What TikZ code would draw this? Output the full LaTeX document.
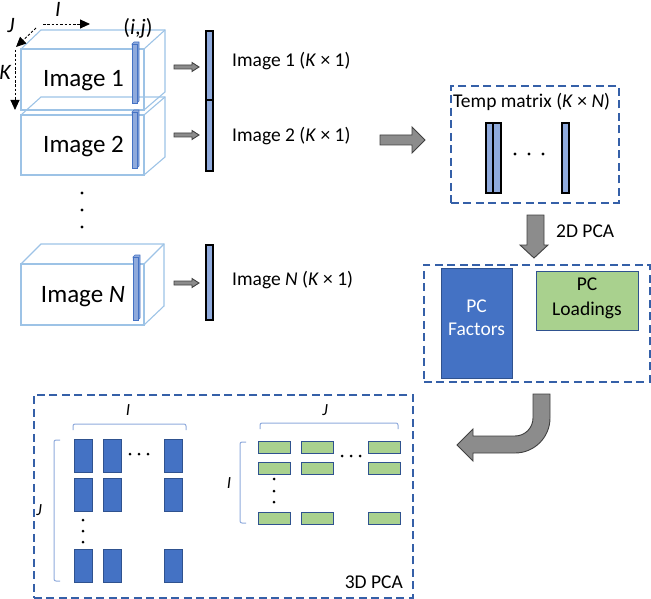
\documentclass[tikz,border=0pt]{standalone}
\usepackage{fontspec}
\setmainfont{Carlito}
\usetikzlibrary{arrows.meta}
\definecolor{dashblue}{HTML}{3560A8}
\definecolor{imgblue}{HTML}{9DC3E6}
\definecolor{slice}{HTML}{8FAADC}
\definecolor{slicedge}{HTML}{4472C4}
\definecolor{pcblue}{HTML}{4472C4}
\definecolor{pcedge}{HTML}{2F528F}
\definecolor{pcgreen}{HTML}{A9D18E}
\definecolor{arrgrey}{HTML}{8C8C8C}
\newcommand\setfs[1]{\fontsize{#1}{#1}\selectfont}
\begin{document}
\begin{tikzpicture}[x=1pt,y=-1pt,
  dashbox/.style={draw=dashblue, line width=1.9pt, dash pattern=on 8pt off 4.5pt},
  imgline/.style={draw=imgblue, line width=1.1pt},
  imgfront/.style={draw=imgblue, line width=1.1pt, minimum width=123, minimum height=61, anchor=north west, outer sep=0pt, inner sep=0pt},
  txt/.style={font=\setfs{19.5}, inner sep=0pt, anchor=base west},
  bigtxt/.style={font=\setfs{25}, inner sep=0pt, anchor=base},
  axlbl/.style={font=\setfs{22}\itshape, inner sep=0pt, anchor=base},
  smlbl/.style={font=\setfs{17}\itshape, inner sep=0pt, anchor=base},
  axarrow/.style={dashed, dash pattern=on 2.5pt off 1.8pt, line width=0.9pt, -{Triangle[length=10pt,width=9pt]}},
  blockarrow/.style={fill=arrgrey, draw=black!75, line width=0.9pt, line join=miter},
  colbar/.style={fill=slice, draw=black, line width=1.3pt, anchor=north west, inner sep=0pt, outer sep=0pt},
  slicebar/.style={fill=slice, draw=slicedge, line width=0.6pt},
  bluecell/.style={fill=pcblue, draw=pcedge, line width=1pt, minimum width=18, minimum height=33, anchor=north west, inner sep=0pt},
  greencell/.style={fill=pcgreen, draw=pcedge, line width=1.3pt, minimum width=32, minimum height=12, anchor=north west, inner sep=0pt},
  brack/.style={draw=slice, line width=1pt, rounded corners=2pt},
  dot/.style={circle, fill=black, inner sep=0pt, minimum size=3.2pt},
  smallarr/.pic={\path[blockarrow] (0,-2) -- (18,-2) -- (18,-4.5) -- (25,0) -- (18,4.5) -- (18,2) -- (0,2) -- cycle;}
]
\useasboundingbox (0,0) rectangle (651,599);

% ---------- image stacks ----------
\node[imgfront] (img1) at (21,49) {};
\draw[imgline] (img1.north west) -- ++(20,-19) -- ++(124,0) -- ++(0,62) -- (img1.south east);
\draw[imgline] (img1.north east) -- ++(21,-19);
\node[imgfront, minimum height=60] (img2) at (21,115) {};
\draw[imgline] (img2.north west) -- ++(20,-18) -- ++(124,0) -- ++(0,60) -- (img2.south east);
\draw[imgline] (img2.north east) -- ++(21,-18);
\node[imgfront] (imgN) at (21,264) {};
\draw[imgline] (imgN.north west) -- ++(20,-20) -- ++(123,0) -- ++(0,62) -- (imgN.south east);
\draw[imgline] (imgN.north east) -- ++(20,-20);

% slices
\draw[slicebar] (132,44) -- (134,42) -- (139,42) -- (139,101) -- (137,103) -- cycle;
\draw[slicebar] (132,44) rectangle (137,103);
\draw[slicebar] (132,112) -- (134,110) -- (139,110) -- (139,166) -- (137,168) -- cycle;
\draw[slicebar] (132,112) rectangle (137,168);
\draw[slicebar] (133,257) -- (135,255) -- (140,255) -- (140,318) -- (138,320) -- cycle;
\draw[slicebar] (133,257) rectangle (138,320);

\node[bigtxt] (t1) at (83.5,87) {Image 1};
\node[bigtxt] (t2) at (83.5,153) {Image 2};
\node[bigtxt] (tN) at (83,302.5) {Image \textit{N}};

\node[font=\setfs{22}, inner sep=0pt, anchor=base] (ij) at (138,35) {(\textit{i},\textit{j})};

% axes
\coordinate (ax0) at (43,24);
\coordinate (axI) at (90,24);
\coordinate (axJ0) at (36,28);
\coordinate (axJ) at (16,47);
\coordinate (axK0) at (15,50);
\coordinate (axK) at (15,110);
\draw[axarrow] (ax0) -- (axI);
\draw[axarrow] (axJ0) -- (axJ);
\draw[axarrow] (axK0) -- (axK);
\node[axlbl] (lI) at (58,17) {I};
\node[axlbl] (lJ) at (11,33) {J};
\node[axlbl] (lK) at (5,80) {K};

% dots
\node[dot] (d1) at (82,193) {};
\node[dot] (d2) at (82,210) {};
\node[dot] (d3) at (82,227) {};

% small arrows
\pic at (174,67) {smallarr};
\pic at (174,135) {smallarr};
\pic at (174,283) {smallarr};

% column bars
\node[colbar, minimum width=7, minimum height=69] (c1) at (206,31) {};
\node[colbar, minimum width=7, minimum height=71] (c2) at (206,100) {};
\node[colbar, minimum width=7, minimum height=75] (cN) at (206,245) {};
\node[txt] (l1) at (232,67) {Image 1 (\textit{K} × 1)};
\node[txt] (l2) at (232,141.5) {Image 2 (\textit{K} × 1)};
\node[txt] (lN) at (232,285) {Image \textit{N} (\textit{K} × 1)};

% big arrow to temp
\path[blockarrow] (380,135) -- (412,135) -- (412,127) -- (425,140) -- (412,153) -- (412,145) -- (380,145) -- cycle;

% temp matrix
\node[dashbox, minimum width=168, minimum height=117, anchor=north west, inner sep=0pt] (temp) at (450,85) {};
\node[txt] (tt) at (453,108) {Temp matrix (\textit{K} × \textit{N})};
\draw[fill=slice, draw=black, line width=1.3pt] (486,123) rectangle (501,193);
\draw[black, line width=1.1pt] (493,123) -- (493,193);
\draw[fill=slice, draw=black, line width=1.3pt] (562,123) rectangle (569,193);
\node[dot] (td1) at (515,154) {};
\node[dot] (td2) at (529,154) {};
\node[dot] (td3) at (543,154) {};

% down arrow 2D PCA
\path[blockarrow] (527,215) -- (544,215) -- (544,245) -- (548,245) -- (534,258) -- (520,245) -- (527,245) -- cycle;
\node[txt] (pca2) at (556,237) {2D PCA};

% PC box
\node[dashbox, minimum width=226, minimum height=117, anchor=north west, inner sep=0pt] (pcbox) at (423,264) {};
\node[fill=pcblue, draw=pcedge, line width=1pt, minimum width=71, minimum height=110, anchor=north west, inner sep=0pt] (fac) at (441,268) {};
\node[txt, anchor=base, text=white] at (476.5,312) {PC};
\node[txt, anchor=base, text=white] at (476.5,335) {Factors};
\node[fill=pcgreen, draw=pcedge, line width=1.2pt, minimum width=102, minimum height=59, anchor=north west, inner sep=0pt] (load) at (536,271) {};
\node[txt, anchor=base] at (587,290) {PC};
\node[txt, anchor=base] at (587,315) {Loadings};

% curved arrow
\path[blockarrow] (533,394) -- (550,394) -- (550,418) arc[start angle=0, end angle=90, radius=35] -- (473,453) -- (473,461) -- (457,445) -- (473,429) -- (473,436) -- (515,436) arc[start angle=90, end angle=0, radius=18] -- cycle;

% 3D PCA box
\node[dashbox, minimum width=379, minimum height=203, anchor=north west, inner sep=0pt] (box3) at (33,394) {};
\node[txt, anchor=base east] (pca3) at (403,588) {3D PCA};

% blue cells
\foreach \x/\cx in {74/a,103/b,164/c}{
  \foreach \y/\ry in {439/1,478/2,549/3}{
    \node[bluecell] (b\cx\ry) at (\x,\y) {};
  }
}
\node[dot, minimum size=3pt] at (130,454) {};
\node[dot, minimum size=3pt] at (139,454) {};
\node[dot, minimum size=3pt] at (148,454) {};
\node[dot, minimum size=3pt] at (83,520) {};
\node[dot, minimum size=3pt] at (83,531) {};
\node[dot, minimum size=3pt] at (83,542) {};
\draw[brack] (73,430) -- (73,424) -- (186,424) -- (186,430);
\draw[brack] (60,440) -- (54,440) -- (54,581) -- (60,581);
\node[smlbl] (bI) at (128,415) {I};
\node[smlbl] (bJ) at (39,515) {J};

% green cells
\foreach \x/\cx in {258/a,301/b,368/c}{
  \foreach \y/\ry in {441/1,462/2,512/3}{
    \node[greencell] (g\cx\ry) at (\x,\y) {};
  }
}
\node[dot, minimum size=3pt] at (342,456) {};
\node[dot, minimum size=3pt] at (351,456) {};
\node[dot, minimum size=3pt] at (360,456) {};
\node[dot, minimum size=3pt] at (274,479) {};
\node[dot, minimum size=3pt] at (274,491) {};
\node[dot, minimum size=3pt] at (274,502) {};
\draw[brack] (260,429) -- (260,423) -- (398,423) -- (398,429);
\draw[brack] (246,442) -- (240,442) -- (240,523) -- (246,523);
\node[smlbl] (gJ) at (325,415) {J};
\node[smlbl] (gI) at (229,488) {I};

\end{tikzpicture}
\end{document}
